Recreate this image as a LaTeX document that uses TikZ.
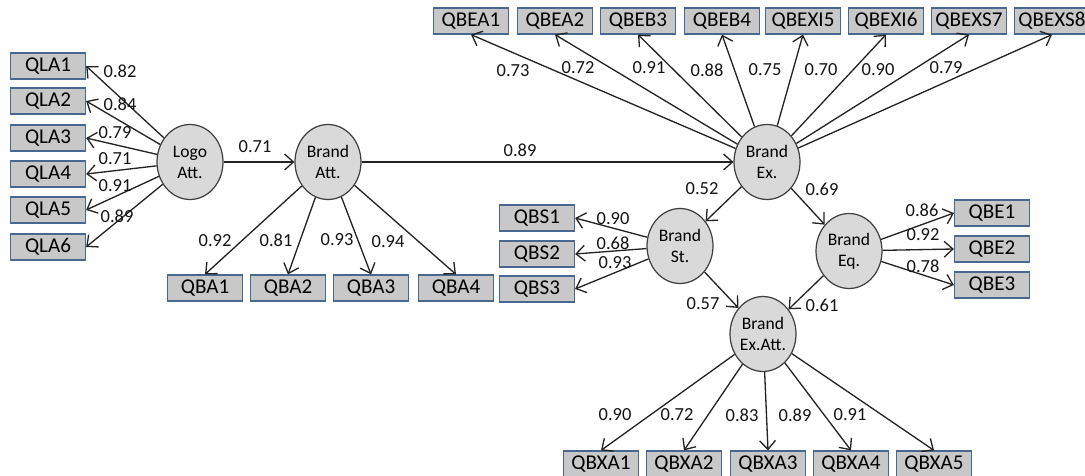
\documentclass[tikz,border=0pt]{standalone}
\usepackage{fontspec}
\setmainfont{Carlito}
\usetikzlibrary{shapes.geometric,arrows.meta}

\begin{document}
\begin{tikzpicture}[x=0.02cm,y=-0.02cm,
  item/.style={draw=boxline,fill=boxfill,line width=0.7pt,minimum width=1.5cm,minimum height=0.52cm,inner sep=0pt,font=\fontsize{12}{14}\selectfont},
  factor/.style={ellipse,draw=circline,fill=circfill,line width=0.7pt,minimum width=1.32cm,minimum height=1.5cm,inner sep=0pt,align=center,font=\fontsize{10}{12}\selectfont},
  load/.style={text=textcolor,inner sep=0pt,font=\fontsize{10.5}{12}\selectfont},
  path/.style={draw=pathcolor,line width=0.75pt,-{Straight Barb[length=5pt,width=9pt]}}]
\definecolor{boxfill}{RGB}{200,200,200}
\definecolor{boxline}{RGB}{72,104,145}
\definecolor{circfill}{RGB}{217,217,217}
\definecolor{circline}{RGB}{64,64,64}
\definecolor{pathcolor}{RGB}{35,35,35}
\definecolor{textcolor}{RGB}{20,20,20}
\useasboundingbox (0,0) rectangle (1085,476);
\node [factor] (logo) at (190,162) {Logo\\Att.};
\node [factor] (batt) at (328,162) {Brand\\Att.};
\node [factor] (bex) at (767,162) {Brand\\Ex.};
\node [factor] (bst) at (680,246) {Brand\\St.};
\node [factor] (beq) at (849,251) {Brand\\Eq.};
\node [factor] (bxa) at (763,334) {Brand\\Ex.Att.};
\node [item] (qla1) at (48,66) {QLA1};
\node [item] (qla2) at (48,101) {QLA2};
\node [item] (qla3) at (48,138) {QLA3};
\node [item] (qla4) at (48,174) {QLA4};
\node [item] (qla5) at (48,210) {QLA5};
\node [item] (qla6) at (48,247) {QLA6};
\node [item] (qba1) at (205,288) {QBA1};
\node [item] (qba2) at (288,288) {QBA2};
\node [item] (qba3) at (371,288) {QBA3};
\node [item] (qba4) at (456,288) {QBA4};
\node [item] (qbea1) at (471,21) {QBEA1};
\node [item] (qbea2) at (555,21) {QBEA2};
\node [item] (qbeb3) at (638,21) {QBEB3};
\node [item] (qbeb4) at (722,21) {QBEB4};
\node [item] (qbexi5) at (803,21) {QBEXI5};
\node [item] (qbexi6) at (886,21) {QBEXI6};
\node [item] (qbexs7) at (969,21) {QBEXS7};
\node [item] (qbexs8) at (1052,21) {QBEXS8};
\node [item] (qbs1) at (537,218) {QBS1};
\node [item] (qbs2) at (537,254) {QBS2};
\node [item] (qbs3) at (537,289) {QBS3};
\node [item] (qbe1) at (992,213) {QBE1};
\node [item] (qbe2) at (992,249) {QBE2};
\node [item] (qbe3) at (992,285) {QBE3};
\node [item] (qbxa1) at (601,464) {QBXA1};
\node [item] (qbxa2) at (684,464) {QBXA2};
\node [item] (qbxa3) at (768,464) {QBXA3};
\node [item] (qbxa4) at (851,464) {QBXA4};
\node [item] (qbxa5) at (934,464) {QBXA5};
\draw [path] (logo) -- (qla1.east);
\draw [path] (logo) -- (qla2.east);
\draw [path] (logo) -- (qla3.east);
\draw [path] (logo) -- (qla4.east);
\draw [path] (logo) -- (qla5.east);
\draw [path] (logo) -- (qla6.east);
\draw [path] (logo) -- (batt);
\draw [path] (batt) -- (qba1.north);
\draw [path] (batt) -- (qba2.north);
\draw [path] (batt) -- (qba3.north);
\draw [path] (batt) -- (qba4.north);
\draw [path] (batt) -- (bex);
\draw [path] (bex) -- (qbea1.south);
\draw [path] (bex) -- (qbea2.south);
\draw [path] (bex) -- (qbeb3.south);
\draw [path] (bex) -- (qbeb4.south);
\draw [path] (bex) -- (qbexi5.south);
\draw [path] (bex) -- (qbexi6.south);
\draw [path] (bex) -- (qbexs7.south);
\draw [path] (bex) -- (qbexs8.south);
\draw [path] (bex) -- (bst);
\draw [path] (bex) -- (beq);
\draw [path] (bst) -- (qbs1.east);
\draw [path] (bst) -- (qbs2.east);
\draw [path] (bst) -- (qbs3.east);
\draw [path] (beq) -- (qbe1.west);
\draw [path] (beq) -- (qbe2.west);
\draw [path] (beq) -- (qbe3.west);
\draw [path] (bst) -- (bxa);
\draw [path] (beq) -- (bxa);
\draw [path] (bxa) -- (qbxa1.north);
\draw [path] (bxa) -- (qbxa2.north);
\draw [path] (bxa) -- (qbxa3.north);
\draw [path] (bxa) -- (qbxa4.north);
\draw [path] (bxa) -- (qbxa5.north);
\node [load] (la1) at (120,71) {0.82};
\node [load] (la2) at (120,104) {0.84};
\node [load] (la3) at (115,133) {0.79};
\node [load] (la4) at (115,159) {0.71};
\node [load] (la5) at (115,186) {0.91};
\node [load] (la6) at (117,216) {0.89};
\node [load] (lbatt) at (255,147) {0.71};
\node [load] (lba1) at (215,241) {0.92};
\node [load] (lba2) at (276,240) {0.81};
\node [load] (lba3) at (337,240) {0.93};
\node [load] (lba4) at (388,242) {0.94};
\node [load] (lbex) at (520,150) {0.89};
\node [load] (lbe1) at (513,71) {0.73};
\node [load] (lbe2) at (578,68) {0.72};
\node [load] (lbe3) at (649,68) {0.91};
\node [load] (lbe4) at (707,70) {0.88};
\node [load] (lbe5) at (765,70) {0.75};
\node [load] (lbe6) at (821,70) {0.70};
\node [load] (lbe7) at (878,70) {0.90};
\node [load] (lbe8) at (946,68) {0.79};
\node [load] (lbst) at (702,189) {0.52};
\node [load] (lbeq) at (822,189) {0.69};
\node [load] (lbs1) at (613,219) {0.90};
\node [load] (lbs2) at (613,243) {0.68};
\node [load] (lbs3) at (615,263) {0.93};
\node [load] (lqe1) at (922,210) {0.86};
\node [load] (lqe2) at (923,235) {0.92};
\node [load] (lqe3) at (923,266) {0.78};
\node [load] (lsx) at (703,304) {0.57};
\node [load] (lex) at (822,305) {0.61};
\node [load] (lxa1) at (615,415) {0.90};
\node [load] (lxa2) at (677,415) {0.72};
\node [load] (lxa3) at (742,415) {0.83};
\node [load] (lxa4) at (795,415) {0.89};
\node [load] (lxa5) at (850,415) {0.91};
\end{tikzpicture}
\end{document}
